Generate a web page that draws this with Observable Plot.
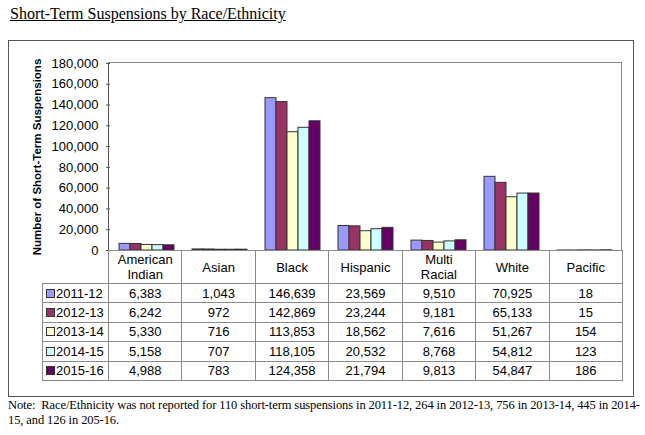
<!DOCTYPE html>
<html>
<head>
<meta charset="utf-8">
<script src="https://cdn.jsdelivr.net/npm/d3@7"></script>
<script src="https://cdn.jsdelivr.net/npm/@observablehq/plot@0.6"></script>
<style>
  body { margin: 0; background: #fff; width: 645px; height: 435px; position: relative; overflow: hidden;
         font-family: "Liberation Sans", Arial, sans-serif; color: #000; }
  #title { position: absolute; left: 10px; top: 5px; font-family: "Liberation Serif", "Times New Roman", serif;
           font-size: 16px; text-decoration: underline; white-space: nowrap; }
  #box { position: absolute; left: 8px; top: 40px; width: 626px; height: 357px; border: 1px solid #555; box-sizing: border-box; }
  #chart { position: absolute; left: 0; top: 40px; }
  #frame { position: absolute; left: 108px; top: 62px; width: 514px; height: 189px; box-sizing: border-box;
           border-top: 1px solid #8a8a8a; border-right: 1px solid #8a8a8a; border-left: 1px solid #555; pointer-events: none; }
  #chart svg g[aria-label="y-axis label"] text { font-weight: bold; font-size: 11.5px; }
  #tbl { position: absolute; left: 42px; top: 250px; border-collapse: collapse; table-layout: fixed; width: 580px;
         font-size: 13px; font-family: "Liberation Sans", Arial, sans-serif; }
  #tbl td { border: 1px solid #8a8a8a; text-align: center; padding: 0; line-height: 15px; overflow: hidden; white-space: nowrap; }
  #tbl tr.hdr td { height: 32px; }
  #tbl tr.dat td { height: 18.4px; }
  #tbl td.blank { border-top: none; border-left: none; border-bottom: 1px solid #8a8a8a; }
  #tbl td.leg { text-align: left; padding-left: 3px; }
  .sw { display: inline-block; width: 7px; height: 7px; border: 1px solid #333; margin-right: 1px; vertical-align: 0px; }
  #note { position: absolute; left: 8px; top: 398px; width: 640px; font-family: "Liberation Serif", "Times New Roman", serif;
          font-size: 12.5px; letter-spacing: -0.1px; line-height: 14.5px; white-space: nowrap; }
</style>
</head>
<body>
<div id="title">Short-Term Suspensions by Race/Ethnicity</div>
<div id="box"></div>
<div id="chart"></div>
<div id="frame"></div>
<table id="tbl"></table>
<div id="note">Note:&nbsp; Race/Ethnicity was not reported for 110 short-term suspensions in 2011-12, 264 in 2012-13, 756 in 2013-14, 445 in 2014-<br>15, and 126 in 205-16.</div>
<script>
// ---- data ----
const races = ["American Indian", "Asian", "Black", "Hispanic", "Multi Racial", "White", "Pacific"];
const raceHeaderLines = [["American", "Indian"], ["Asian"], ["Black"], ["Hispanic"], ["Multi", "Racial"], ["White"], ["Pacific"]];
const years = ["2011-12", "2012-13", "2013-14", "2014-15", "2015-16"];
const values2011 = [6383, 1043, 146639, 23569, 9510, 70925, 18];
const values2012 = [6242, 972, 142869, 23244, 9181, 65133, 15];
const values2013 = [5330, 716, 113853, 18562, 7616, 51267, 154];
const values2014 = [5158, 707, 118105, 20532, 8768, 54812, 123];
const values2015 = [4988, 783, 124358, 21794, 9813, 54847, 186];
const yearColors = ["#9999FF", "#993366", "#FFFFCC", "#CCFFFF", "#660066"];
const yTicks = [0, 20000, 40000, 60000, 80000, 100000, 120000, 140000, 160000, 180000];
const yLabel = "Number of Short-Term Suspensions";

const series = [values2011, values2012, values2013, values2014, values2015];
const rows = years.flatMap((yr, i) => races.map((r, j) => ({race: r, year: yr, value: series[i][j]})));

const fmt = d3.format(",");

const chart = Plot.plot({
  width: 645,
  height: 211,
  marginTop: 23,
  marginBottom: 1,
  marginLeft: 108,
  marginRight: 23,
  style: {fontFamily: "Liberation Sans, Arial, sans-serif", fontSize: "13px", background: "transparent", overflow: "visible", color: "#000"},
  fx: {domain: races, padding: 0, axis: null},
  x: {domain: years, paddingInner: 0, paddingOuter: 0.75, axis: null},
  y: {domain: [0, 180000]},
  color: {domain: years, range: yearColors},
  marks: [
    Plot.barY(rows, {fx: "race", x: "year", y: "value", fill: "year", stroke: "#333", strokeWidth: 1, inset: 0}),
    Plot.axisY({ticks: yTicks, tickFormat: fmt, tickSize: 4, tickPadding: 8, stroke: "#555",
                label: yLabel, labelAnchor: "center", labelOffset: 78, labelArrow: false})
  ]
});
document.getElementById("chart").appendChild(chart);

// ---- data table ----
const tbl = document.getElementById("tbl");
const colgroup = document.createElement("colgroup");
const c0 = document.createElement("col"); c0.style.width = "66px"; colgroup.appendChild(c0);
races.forEach(() => { const c = document.createElement("col"); c.style.width = (514 / races.length) + "px"; colgroup.appendChild(c); });
tbl.appendChild(colgroup);
const hdr = document.createElement("tr"); hdr.className = "hdr";
const blank = document.createElement("td"); blank.className = "blank"; hdr.appendChild(blank);
raceHeaderLines.forEach(lines => {
  const td = document.createElement("td");
  lines.forEach((ln, k) => { if (k) td.appendChild(document.createElement("br")); td.appendChild(document.createTextNode(ln)); });
  hdr.appendChild(td);
});
tbl.appendChild(hdr);
years.forEach((yr, i) => {
  const tr = document.createElement("tr"); tr.className = "dat";
  const lg = document.createElement("td"); lg.className = "leg";
  const sw = document.createElement("span"); sw.className = "sw"; sw.style.background = yearColors[i];
  lg.appendChild(sw); lg.appendChild(document.createTextNode(yr));
  tr.appendChild(lg);
  series[i].forEach(v => { const td = document.createElement("td"); td.textContent = fmt(v); tr.appendChild(td); });
  tbl.appendChild(tr);
});
</script>
</body>
</html>
